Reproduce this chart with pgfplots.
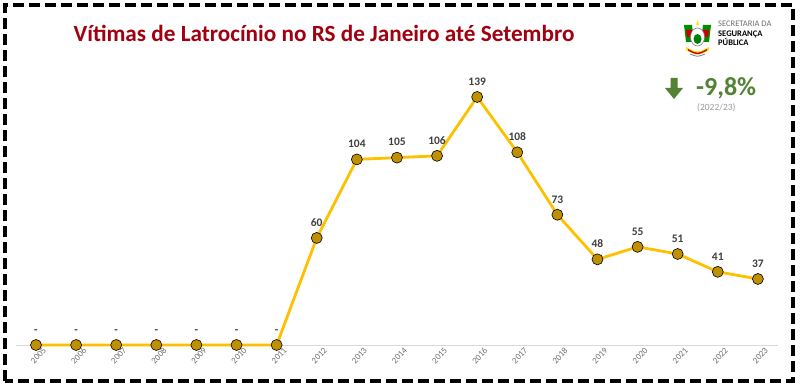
\documentclass[border=0pt]{standalone}
\usepackage{pgfplots}
\pgfplotsset{compat=1.18}
\usepackage{fontspec}
\setmainfont{Carlito}
\definecolor{titred}{RGB}{160,0,16}
\definecolor{linegold}{RGB}{255,192,0}
\definecolor{markgold}{RGB}{191,144,0}
\definecolor{lblgray}{RGB}{64,64,64}
\definecolor{tickgray}{RGB}{110,110,110}
\definecolor{basegray}{RGB}{217,217,217}
\definecolor{greenind}{RGB}{84,130,53}
\begin{document}
\begin{tikzpicture}[x=1pt,y=1pt]
\useasboundingbox (0,0) rectangle (800,387);
\fill[white] (0,0) rectangle (800,387);
\draw[black, line width=3.5pt, dash pattern=on 11pt off 5pt] (5,6) rectangle (793,382);
\node[font=\fontsize{23.2}{25}\selectfont\bfseries, text=titred] at (324,354) {Vítimas de Latrocínio no RS de Janeiro até Setembro};
% logo text
\node[font=\fontsize{8.5}{9.5}\selectfont, text=tickgray, anchor=north west, align=left, inner sep=0] at (718,366) {SECRETARIA DA\\{\color{black}\bfseries SEGURANÇA}\\{\color{black}\bfseries PÚBLICA}};
% simplified emblem
\fill[green!55!black] (684,362) -- (692,362) -- (694,345) -- (686,345) -- cycle;
\fill[red!80!black] (686,357) -- (692,357) -- (693,350) -- (687,350) -- cycle;
\fill[green!55!black] (711,362) -- (703,362) -- (701,345) -- (709,345) -- cycle;
\fill[red!80!black] (709,357) -- (703,357) -- (702,350) -- (708,350) -- cycle;
\fill[yellow!90!orange] (697.5,367) -- (699,362) -- (696,362) -- cycle;
\filldraw[fill=white, draw=gray, line width=0.6pt] (697.5,350) ellipse (7 and 9);
\fill[green!50!black] (697.5,348) ellipse (4 and 5);
\fill[yellow!80!orange] (686,340) .. controls (697.5,334) .. (709,340) -- (709,337) .. controls (697.5,331) .. (686,337) -- cycle;
\fill[red!80!black] (688,338) .. controls (697.5,333) .. (707,338) -- (707,336.5) .. controls (697.5,331.5) .. (688,336.5) -- cycle;
\draw[gray, line width=0.8pt] (690,333) .. controls (697.5,330) .. (705,333);
% indicator
\fill[greenind] (670.5,309) -- (670.5,299) -- (665,299) -- (674,288) -- (683,299) -- (677.5,299) -- (677.5,309) -- cycle;
\node[font=\fontsize{26}{28}\selectfont\bfseries, text=greenind, anchor=west, inner sep=0] at (696,299) {-9,8\%};
\node[font=\fontsize{9.5}{10}\selectfont, text=tickgray!70, anchor=west, inner sep=0] at (697,279) {(2022/23)};
\begin{axis}[
  at={(36pt,42pt)}, anchor=origin,
  scale only axis, width=762pt, height=285.5pt,
  xmin=-0.5, xmax=18.5, ymin=0, ymax=160,
  axis x line*=bottom, axis y line=none,
  x axis line style={basegray, line width=0.8pt, -},
  xtick={0,...,18},
  xticklabels={2005,2006,2007,2008,2009,2010,2011,2012,2013,2014,2015,2016,2017,2018,2019,2020,2021,2022,2023},
  xticklabel style={rotate=47, anchor=north east, font=\fontsize{8.8}{9}\selectfont, text=tickgray, inner sep=0pt, xshift=3pt, yshift=-6pt},
  major tick length=0pt,
  clip=false,
  nodes near coords,
  point meta=explicit symbolic,
  nodes near coords style={font=\fontsize{11.5}{12}\selectfont\bfseries, text=lblgray, anchor=south, yshift=8pt},
]
\addplot[linegold, line width=2.8pt, mark=*, mark size=5.5pt, mark options={fill=markgold, draw=black, line width=0.6pt}] coordinates {
(0,0) [-] (1,0) [-] (2,0) [-] (3,0) [-] (4,0) [-] (5,0) [-] (6,0) [-]
(7,60) [60] (8,104) [104] (9,105) [105] (10,106) [106] (11,139) [139]
(12,108) [108] (13,73) [73] (14,48) [48] (15,55) [55] (16,51) [51]
(17,41) [41] (18,37) [37]
};
\end{axis}
\end{tikzpicture}
\end{document}
